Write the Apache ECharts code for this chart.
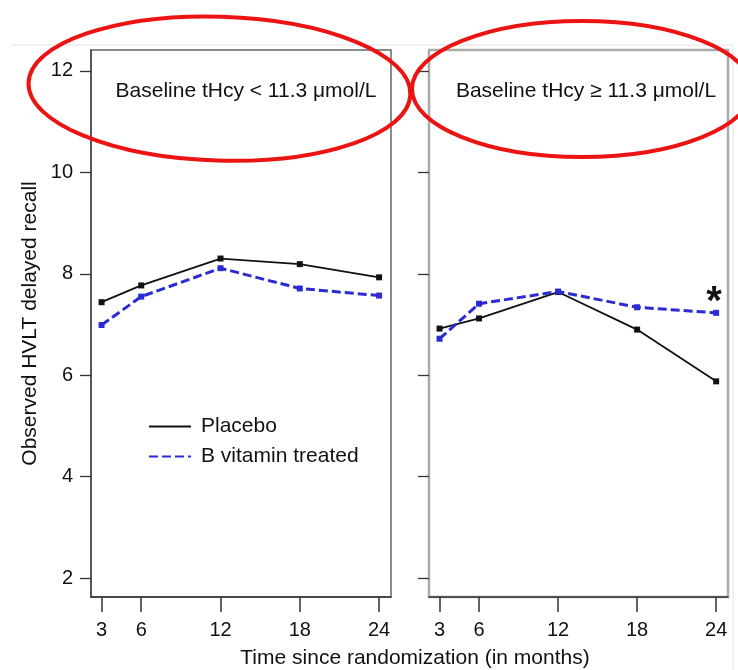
<!DOCTYPE html>
<html>
<head>
<meta charset="utf-8">
<script src="https://cdn.jsdelivr.net/npm/echarts@6/dist/echarts.min.js"></script>
<style>
html, body { margin: 0; padding: 0; background: #fff; }
#chart { width: 738px; height: 670px; }
</style>
</head>
<body>
<div id="chart"></div>
<script>
// months since randomization, shared by both panels
const months = [3, 6, 12, 18, 24];
const yTicks = [2, 4, 6, 8, 10, 12];

// baseline tHcy < 11.3
const placeboLow = [7.44, 7.77, 8.30, 8.19, 7.93];
const vitaminLow = [6.99, 7.55, 8.11, 7.71, 7.57];
// baseline tHcy >= 11.3
const placeboHigh = [6.92, 7.12, 7.64, 6.90, 5.88];
const vitaminHigh = [6.72, 7.41, 7.65, 7.34, 7.23];

const panelTitles = ['Baseline tHcy < 11.3 μmol/L', 'Baseline tHcy ≥ 11.3 μmol/L'];
const seriesNames = ['Placebo', 'B vitamin treated'];

const font = 'Liberation Sans, Arial, sans-serif';
const black = '#111';
const blue = '#2b2bd2';
const textColor = '#111';

function pairs(vals) {
    return months.map((m, i) => [m, vals[i]]);
}

function xAxisFor(idx) {
    return {
        type: 'value', gridIndex: idx, min: 2.2, max: 24.9,
        splitLine: { show: false },
        axisLine: { show: true, onZero: false, lineStyle: { color: '#333', width: 1.5 } },
        axisTick: { show: true, length: 15, customValues: months, lineStyle: { color: '#333', width: 1.5 } },
        axisLabel: { customValues: months, margin: 23, fontSize: 20, color: textColor, fontFamily: font }
    };
}

function yAxisFor(idx) {
    let ax = {
        type: 'value', gridIndex: idx, min: 1.63, max: 12.41,
        splitLine: { show: false },
        axisLine: { show: idx === 0, lineStyle: { color: '#444', width: 1.5 } },
        axisTick: { show: true, length: 11, customValues: yTicks, lineStyle: { color: '#333', width: 1.3 } },
        axisLabel: { show: idx === 0, customValues: yTicks, margin: 18, fontSize: 20, color: textColor, fontFamily: font }
    };
    if (idx === 0) {
        ax.name = 'Observed HVLT delayed recall';
        ax.nameLocation = 'middle';
        ax.nameGap = 50;
        ax.nameTextStyle = { fontSize: 21, color: textColor, fontFamily: font };
    }
    return ax;
}

function lineSeries(name, idx, vals) {
    let isVit = name === seriesNames[1];
    return {
        name: name, type: 'line', xAxisIndex: idx, yAxisIndex: idx,
        data: pairs(vals),
        symbol: 'rect', symbolSize: 6,
        itemStyle: { color: isVit ? blue : black },
        lineStyle: isVit ? { color: blue, width: 3, type: [9, 4] } : { color: black, width: 1.8 },
        z: isVit ? 3 : 2
    };
}

let series = [
    lineSeries(seriesNames[0], 0, placeboLow),
    lineSeries(seriesNames[1], 0, vitaminLow),
    lineSeries(seriesNames[0], 1, placeboHigh),
    lineSeries(seriesNames[1], 1, vitaminHigh)
];
// significance marker at 24 months, right panel
series[3].markPoint = {
    symbol: 'circle', symbolSize: 0,
    data: [{ coord: [months[4], vitaminHigh[4]] }],
    label: { show: true, formatter: '*', offset: [-2, -10], fontSize: 40, fontWeight: 'bold', color: black, fontFamily: font }
};

const titleText = { fontSize: 21, fontWeight: 'normal', color: textColor, fontFamily: font };

let option = {
    backgroundColor: '#fff',
    animation: false,
    title: [
        { text: panelTitles[0], left: 241, top: 76, textAlign: 'center', textStyle: titleText },
        { text: panelTitles[1], left: 581, top: 76, textAlign: 'center', textStyle: titleText },
        { text: 'Time since randomization (in months)', left: 410, top: 643, textAlign: 'center', textStyle: titleText }
    ],
    legend: {
        data: seriesNames, orient: 'vertical', left: 143, top: 411,
        itemWidth: 42, itemHeight: 14, itemGap: 9,
        itemStyle: { opacity: 0 },
        textStyle: { fontSize: 21, lineHeight: 21, color: textColor, fontFamily: font, padding: [0, 0, 0, 5] }
    },
    grid: [
        { left: 91, top: 50, width: 300, height: 547, show: true, borderColor: '#666', borderWidth: 1.5 },
        { left: 429, top: 50, width: 299, height: 547, show: true, borderColor: '#aaa', borderWidth: 2.5 }
    ],
    xAxis: [xAxisFor(0), xAxisFor(1)],
    yAxis: [yAxisFor(0), yAxisFor(1)],
    series: series,
    graphic: [
        { type: 'polyline', shape: { points: [[12, 45], [733, 45], [733, 670]] },
          style: { fill: 'none', stroke: '#e2e2e2', lineWidth: 1 }, z: 0 },
        { type: 'ellipse', shape: { cx: 222, cy: 82, rx: 191, ry: 72 }, rotation: -0.03,
          style: { fill: 'none', stroke: '#ec1313', lineWidth: 4 }, z: 100 },
        { type: 'ellipse', shape: { cx: 582, cy: 89, rx: 170, ry: 68 },
          style: { fill: 'none', stroke: '#ec1313', lineWidth: 4 }, z: 100 }
    ]
};

let myChart = echarts.init(document.getElementById('chart'));
myChart.setOption(option);
</script>
</body>
</html>
